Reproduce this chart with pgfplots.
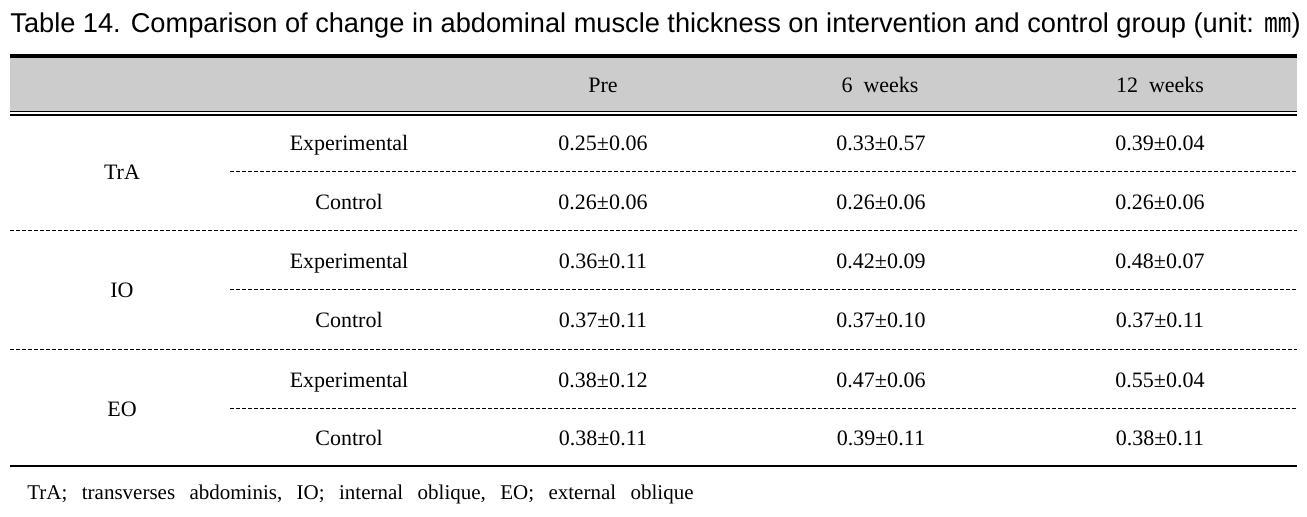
\documentclass[border=0pt]{standalone}
\usepackage{pgfplots}
\pgfplotsset{compat=1.18}
\usepackage{fontspec}
\setmainfont{Liberation Serif}
\newfontfamily\titlefont{Liberation Sans}
\newfontfamily\cjk{Noto Sans CJK KR}
\definecolor{headgray}{RGB}{204,204,204}
\begin{document}
\begin{tikzpicture}
\begin{axis}[
  width=653.5pt, height=258.5pt, scale only axis,
  xmin=0, xmax=1307, ymin=0, ymax=517, y dir=reverse,
  axis lines=none, clip=false,
]
\path (axis cs:0,0) rectangle (axis cs:1307,517);
% title
\node[anchor=base west, inner sep=0pt, font=\titlefont\fontsize{13.6}{15}\selectfont]
  at (axis cs:10,33) {Table 14. Comparison of change in abdominal muscle thickness on intervention and control group (unit: {\cjk ㎜})};
% header
\fill[headgray] (axis cs:10,57) rectangle (axis cs:1297,111);
\draw[line width=1.6pt] (axis cs:10,56) -- (axis cs:1297,56);
\draw[line width=0.5pt] (axis cs:10,112) -- (axis cs:1297,112);
\draw[line width=1pt] (axis cs:10,115.5) -- (axis cs:1297,115.5);
\begin{scope}[every node/.style={anchor=base, inner sep=0pt, font=\fontsize{11}{13}\selectfont}]
\node at (axis cs:603,93) {Pre};
\node at (axis cs:880,93) {6\ \ weeks};
\node at (axis cs:1160,93) {12\ \ weeks};
% groups
\node at (axis cs:122,180) {TrA};
\node at (axis cs:122,298) {IO};
\node at (axis cs:122,416) {EO};
% subgroups
\node at (axis cs:349,151) {Experimental};
\node at (axis cs:349,210) {Control};
\node at (axis cs:349,269) {Experimental};
\node at (axis cs:349,328) {Control};
\node at (axis cs:349,387) {Experimental};
\node at (axis cs:349,445) {Control};
% values: Pre
\node at (axis cs:603,151) {0.25±0.06};
\node at (axis cs:603,210) {0.26±0.06};
\node at (axis cs:603,269) {0.36±0.11};
\node at (axis cs:603,328) {0.37±0.11};
\node at (axis cs:603,387) {0.38±0.12};
\node at (axis cs:603,445) {0.38±0.11};
% 6 weeks
\node at (axis cs:881,151) {0.33±0.57};
\node at (axis cs:881,210) {0.26±0.06};
\node at (axis cs:881,269) {0.42±0.09};
\node at (axis cs:881,328) {0.37±0.10};
\node at (axis cs:881,387) {0.47±0.06};
\node at (axis cs:881,445) {0.39±0.11};
% 12 weeks
\node at (axis cs:1160,151) {0.39±0.04};
\node at (axis cs:1160,210) {0.26±0.06};
\node at (axis cs:1160,269) {0.48±0.07};
\node at (axis cs:1160,328) {0.37±0.11};
\node at (axis cs:1160,387) {0.55±0.04};
\node at (axis cs:1160,445) {0.38±0.11};
\end{scope}
% rules
\begin{scope}[line width=0.5pt, dash pattern=on 2pt off 1pt]
\draw (axis cs:230,172) -- (axis cs:1297,172);
\draw (axis cs:10,231) -- (axis cs:1297,231);
\draw (axis cs:230,290) -- (axis cs:1297,290);
\draw (axis cs:10,349) -- (axis cs:1297,349);
\draw (axis cs:230,408) -- (axis cs:1297,408);
\end{scope}
\draw[line width=0.8pt] (axis cs:10,466) -- (axis cs:1297,466);
% footnote
\node[anchor=base west, inner sep=0pt, font=\fontsize{10.5}{12}\selectfont]
  at (axis cs:27,499) {\spaceskip=7.2pt plus 1pt\relax TrA; transverses abdominis, IO; internal oblique, EO; external oblique};
\end{axis}
\end{tikzpicture}
\end{document}
